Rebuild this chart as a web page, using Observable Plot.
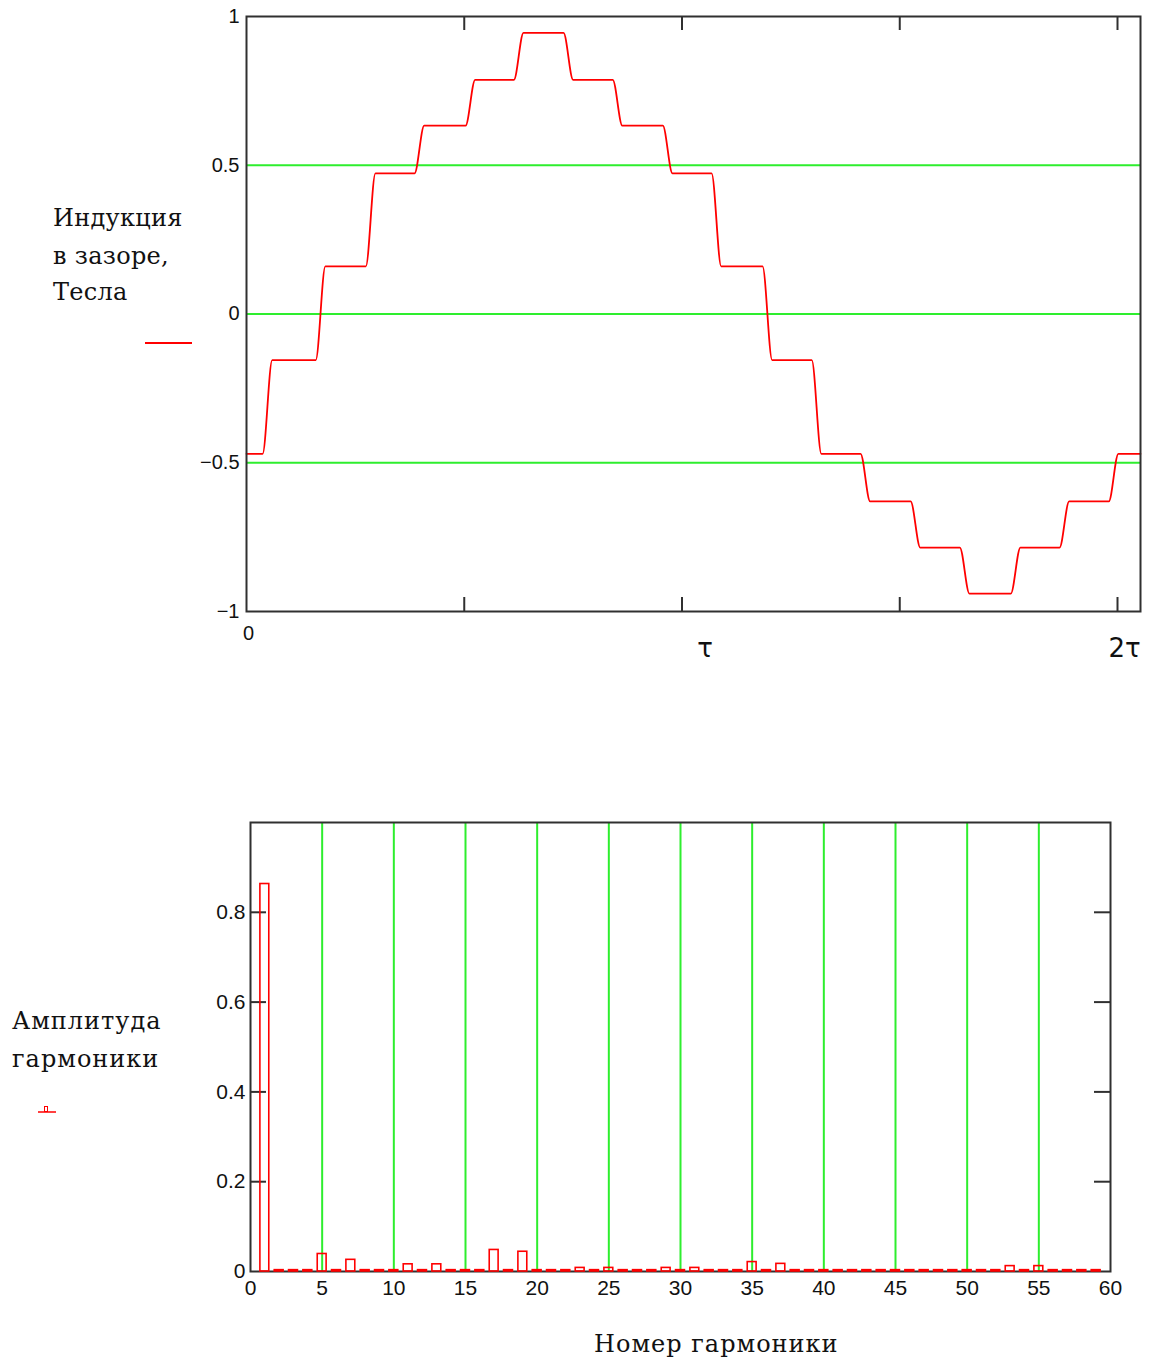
<!DOCTYPE html>
<html>
<head>
<meta charset="utf-8">
<script src="https://cdn.jsdelivr.net/npm/d3@7"></script>
<script src="https://cdn.jsdelivr.net/npm/@observablehq/plot@0.6"></script>
<style>
  html, body { margin: 0; padding: 0; background: #fff; }
  #wrap { position: relative; width: 1161px; height: 1364px; overflow: hidden; background: #fff; }
  .lbl { position: absolute; font-family: "DejaVu Serif", "Liberation Serif", serif; font-size: 24px; letter-spacing: 1px; color: #111; white-space: nowrap; line-height: 1; }
  .abs { position: absolute; }
</style>
</head>
<body>
<div id="wrap">
  <div class="lbl" style="left:53px; top:206px; letter-spacing:0.3px;">Индукция</div>
  <div class="lbl" style="left:53px; top:244px; letter-spacing:0.3px;">в зазоре,</div>
  <div class="lbl" style="left:53px; top:280px; letter-spacing:0.3px;">Тесла</div>
  <svg class="abs" style="left:140px; top:336px;" width="60" height="14"><line x1="5" x2="52" y1="7" y2="7" stroke="#ff0000" stroke-width="2"/></svg>

  <div class="lbl" style="left:12px; top:1009px;">Амплитуда</div>
  <div class="lbl" style="left:12px; top:1047px;">гармоники</div>
  <svg class="abs" style="left:34px; top:1100px;" width="30" height="16"><line x1="4" x2="22" y1="12" y2="12" stroke="#ff0000" stroke-width="1.5"/><rect x="10.5" y="6.5" width="3" height="5" fill="none" stroke="#ff0000" stroke-width="1"/></svg>

  <div class="lbl" style="left:594px; top:1332px;">Номер гармоники</div>
  <div id="top" class="abs" style="left:0; top:0;"></div>
  <div id="bottom" class="abs" style="left:0; top:800px;"></div>
</div>
<script>
// ---------- Top chart: air-gap induction (x in units of tau) ----------
const stepEdgesTau = [0.048, 0.170, 0.285, 0.397, 0.514, 0.625, 0.739, 0.852, 0.967,
                      1.079, 1.196, 1.309, 1.421, 1.536, 1.649, 1.766, 1.878, 1.991];
const stepLevels = [-0.47, -0.155, 0.16, 0.473, 0.633, 0.787, 0.945, 0.787, 0.633, 0.473,
                    0.16, -0.155, -0.47, -0.63, -0.785, -0.94, -0.785, -0.63, -0.47];
const topYTicks = [-1, -0.5, 0, 0.5, 1];
const topGridY = [-0.5, 0, 0.5];
const topXTicks = [0.5, 1, 1.5, 2];
const topXLabels = [{x: 0, label: "0"}, {x: 1, label: "τ"}, {x: 2, label: "2τ"}];
const topXMax = 2.0528;

// ---------- Bottom chart: harmonic amplitudes, n = 1..59 ----------
const amplitudes = [
  0.863, 0.003, 0.003, 0.003, 0.039, 0.003, 0.026, 0.003, 0.003, 0.003,
  0.016, 0.003, 0.016, 0.003, 0.003, 0.003, 0.048, 0.003, 0.044, 0.003,
  0.003, 0.003, 0.008, 0.003, 0.008, 0.003, 0.003, 0.003, 0.008, 0.003,
  0.008, 0.003, 0.003, 0.003, 0.021, 0.003, 0.017, 0.003, 0.003, 0.003,
  0.003, 0.003, 0.003, 0.003, 0.003, 0.003, 0.003, 0.003, 0.003, 0.003,
  0.003, 0.003, 0.012, 0.003, 0.012, 0.003, 0.003, 0.003, 0.003
];
const harmonics = amplitudes.map((a, i) => ({n: i + 1, a}));
const botXTicks = [0, 5, 10, 15, 20, 25, 30, 35, 40, 45, 50, 55, 60];
const botGridX = [5, 10, 15, 20, 25, 30, 35, 40, 45, 50, 55];
const botYTicks = [0, 0.2, 0.4, 0.6, 0.8];

const RED = "#ff0000", GREEN = "#2eee2e", FRAME = "#303030";
const minusFmt = d => d < 0 ? "\u2212" + Math.abs(d) : String(d);

// build the step curve vertices (corners around each read edge)
const ramp = 0.011;
const wave = [];
wave.push({x: 0, y: stepLevels[0]});
stepEdgesTau.forEach((e, i) => {
  wave.push({x: e - ramp, y: stepLevels[i]});
  wave.push({x: e + ramp, y: stepLevels[i + 1]});
});
wave.push({x: topXMax, y: stepLevels[stepLevels.length - 1]});

// top plot geometry
const T = {width: 1161, height: 680, ml: 246, mr: 21, mt: 16, mb: 69};
const topInnerH = T.height - T.mt - T.mb;
const tickLenTop = 14 / topInnerH * 2;

const topPlot = Plot.plot({
  width: T.width, height: T.height,
  marginLeft: T.ml, marginRight: T.mr, marginTop: T.mt, marginBottom: T.mb,
  style: {fontFamily: "Liberation Sans, Arial, sans-serif", fontSize: "20px", color: "#111", background: "transparent"},
  x: {domain: [0, topXMax], axis: null},
  y: {domain: [-1, 1], ticks: topYTicks, tickSize: 0, tickPadding: 7, tickFormat: minusFmt, label: null},
  marks: [
    Plot.ruleY(topGridY, {stroke: GREEN, strokeWidth: 2}),
    Plot.line(wave, {x: "x", y: "y", stroke: RED, strokeWidth: 1.8, curve: "monotone-x"}),
    Plot.ruleX(topXTicks, {x: d => d, y1: -1, y2: -1 + tickLenTop, stroke: FRAME, strokeWidth: 2}),
    Plot.ruleX(topXTicks, {x: d => d, y1: 1 - tickLenTop, y2: 1, stroke: FRAME, strokeWidth: 2}),
    Plot.frame({stroke: FRAME, strokeWidth: 2}),
    Plot.text(topXLabels.filter(d => d.x === 0), {x: "x", y: -1, text: "label", dy: 22, dx: 2, fontSize: 20, fill: "#111"}),
    Plot.text(topXLabels.filter(d => d.x === 1), {x: "x", y: -1, text: "label", dy: 37, dx: 23, fontSize: 26, fill: "#111", fontFamily: "DejaVu Sans"}),
    Plot.text(topXLabels.filter(d => d.x === 2), {x: "x", y: -1, text: "label", dy: 37, dx: 7, fontSize: 26, fill: "#111", fontFamily: "DejaVu Sans"})
  ]
});
document.getElementById("top").appendChild(topPlot);

// bottom plot geometry
const B = {width: 1161, height: 511, ml: 250, mr: 51, mt: 22, mb: 40};
const botInnerW = B.width - B.ml - B.mr;
const tickLenBot = 16 / botInnerW * 60;
const barHalf = 0.31;

const botPlot = Plot.plot({
  width: B.width, height: B.height,
  marginLeft: B.ml, marginRight: B.mr, marginTop: B.mt, marginBottom: B.mb,
  style: {fontFamily: "Liberation Sans, Arial, sans-serif", fontSize: "21px", color: "#111", background: "transparent"},
  x: {domain: [0, 60], ticks: botXTicks, tickSize: 0, tickPadding: 9, tickFormat: d => String(d), label: null},
  y: {domain: [0, 1], ticks: botYTicks, tickSize: 0, tickPadding: 5, tickFormat: d => String(d), label: null},
  marks: [
    Plot.ruleX(botGridX, {stroke: GREEN, strokeWidth: 2}),
    Plot.ruleY(botYTicks.filter(d => d > 0), {y: d => d, x1: 0, x2: tickLenBot, stroke: FRAME, strokeWidth: 2}),
    Plot.ruleY(botYTicks.filter(d => d > 0), {y: d => d, x1: 60 - tickLenBot, x2: 60, stroke: FRAME, strokeWidth: 2}),
    Plot.frame({stroke: FRAME, strokeWidth: 2}),
    Plot.rect(harmonics, {x1: d => d.n - barHalf, x2: d => d.n + barHalf, y1: 0, y2: "a", fill: "none", stroke: RED, strokeWidth: 1.6})
  ]
});
document.getElementById("bottom").appendChild(botPlot);
</script>
</body>
</html>
